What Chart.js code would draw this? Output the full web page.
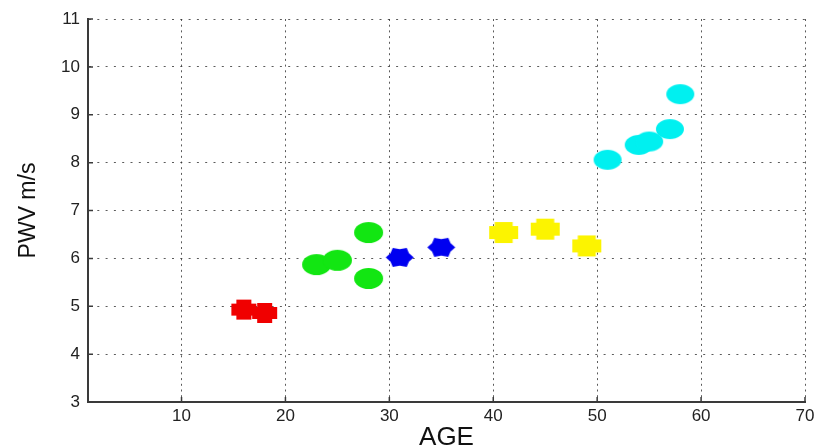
<!DOCTYPE html>
<html><head><meta charset="utf-8">
<script src="https://cdn.jsdelivr.net/npm/chart.js@4"></script>
<style>html,body{margin:0;padding:0;background:#fff;}#wrap{width:816px;height:448px;}</style>
</head><body><div id="wrap"><canvas id="c" width="816" height="448"></canvas></div>
<script>
// ---- data ----
const xTicks = [10, 20, 30, 40, 50, 60, 70];
const yTicks = [3, 4, 5, 6, 7, 8, 9, 10, 11];
const redAge = [16, 18];
const redPwv = [4.93, 4.86];
const greenAge = [23, 25, 28, 28];
const greenPwv = [5.87, 5.96, 6.54, 5.58];
const blueAge = [31, 35];
const bluePwv = [6.02, 6.23];
const yellowAge = [41, 45, 49];
const yellowPwv = [6.54, 6.61, 6.26];
const cyanAge = [51, 54, 55, 57, 58];
const cyanPwv = [8.06, 8.37, 8.44, 8.70, 9.43];
const xTitle = 'AGE';
const yTitle = 'PWV m/s';

// ---- marker images ----
function mk(w, h) { const c = document.createElement('canvas'); c.width = w + 4; c.height = h + 4; const g = c.getContext('2d'); g.filter = 'blur(0.6px)'; return [c, g]; }
function ellipse(color, w, h) {
  const [c, g] = mk(w, h); g.fillStyle = color; g.beginPath();
  g.ellipse(c.width / 2, c.height / 2, w / 2, h / 2, 0, 0, Math.PI * 2); g.fill(); return c;
}
function plus(color, w, h, tw, th) {
  const [c, g] = mk(w, h); g.fillStyle = color; const cx = c.width / 2, cy = c.height / 2;
  g.beginPath(); g.rect(cx - w / 2, cy - th / 2, w, th); g.rect(cx - tw / 2, cy - h / 2, tw, h); g.fill(); return c;
}
function hexagram(color, w, h) {
  const [c, g] = mk(w, h); g.fillStyle = color; const cx = c.width / 2, cy = c.height / 2;
  const R = w / 2, sy = h / (Math.sqrt(3) * R);
  g.beginPath();
  for (let k = 0; k < 12; k++) {
    const a = k * Math.PI / 6, r = k % 2 === 0 ? R : R * 0.76;
    const px = cx + r * Math.cos(a), py = cy + r * Math.sin(a) * sy;
    if (k === 0) g.moveTo(px, py); else g.lineTo(px, py);
  }
  g.closePath(); g.fill(); return c;
}
function pts(xs, ys) { return xs.map((x, i) => ({ x: x, y: ys[i] })); }

const innerTicks = {
  id: 'innerTicks',
  afterDraw(chart) {
    const { ctx, scales: { x, y }, chartArea: a } = chart;
    ctx.save(); ctx.strokeStyle = '#3a3a3a'; ctx.lineWidth = 1.5; ctx.beginPath();
    xTicks.forEach(t => { const p = x.getPixelForValue(t); ctx.moveTo(p, a.bottom); ctx.lineTo(p, a.bottom - 5); });
    yTicks.forEach(t => { const p = y.getPixelForValue(t); ctx.moveTo(a.left, p); ctx.lineTo(a.left + 5, p); });
    ctx.stroke(); ctx.restore();
  }
};

const tickFont = { family: 'Liberation Sans, Arial, sans-serif', size: 17 };
new Chart(document.getElementById('c'), {
  type: 'scatter',
  data: {
    datasets: [
      { data: pts(redAge, redPwv), pointStyle: plus('#f00000', 25, 20, 15, 12) },
      { data: pts(greenAge, greenPwv), pointStyle: ellipse('#12e612', 29, 21) },
      { data: pts(blueAge, bluePwv), pointStyle: hexagram('#0000f0', 28, 19) },
      { data: pts(yellowAge, yellowPwv), pointStyle: plus('#fcf400', 29, 21, 18, 13) },
      { data: pts(cyanAge, cyanPwv), pointStyle: ellipse('#00f0f0', 28, 20) }
    ]
  },
  options: {
    responsive: false, animation: false, devicePixelRatio: 1,
    layout: { padding: { top: 19, right: 11, left: 0, bottom: 0 } },
    plugins: { legend: { display: false }, tooltip: { enabled: false } },
    scales: {
      x: {
        type: 'linear', min: 1, max: 70,
        afterBuildTicks(s) { s.ticks = xTicks.map(v => ({ value: v })); },
        afterFit(s) { s.height = 46; s.paddingRight = 0; s.paddingLeft = 0; },
        grid: { color: 'rgba(50,50,50,0.8)', lineWidth: 1, drawTicks: false },
        border: { display: true, color: '#3a3a3a', width: 2, dash: [2, 3.7] },
        ticks: { color: '#222', font: tickFont, padding: 4, maxRotation: 0 },
        title: { display: true, text: xTitle, color: '#111', font: { family: 'Liberation Sans, Arial, sans-serif', size: 26, lineHeight: 0.8 }, padding: { top: 0, bottom: 0 } }
      },
      y: {
        type: 'linear', min: 3, max: 11,
        afterBuildTicks(s) { s.ticks = yTicks.map(v => ({ value: v })); },
        afterFit(s) { s.width = 88; },
        grid: { color: 'rgba(50,50,50,0.8)', lineWidth: 1, drawTicks: false },
        border: { display: true, color: '#3a3a3a', width: 2, dash: [2, 6.3] },
        ticks: { color: '#222', font: tickFont, padding: 8 },
        title: { display: true, text: yTitle, color: '#111', font: { family: 'Liberation Sans, Arial, sans-serif', size: 23, lineHeight: 1 }, padding: { top: 17, bottom: 0 } }
      }
    }
  },
  plugins: [innerTicks]
});
</script></body></html>
